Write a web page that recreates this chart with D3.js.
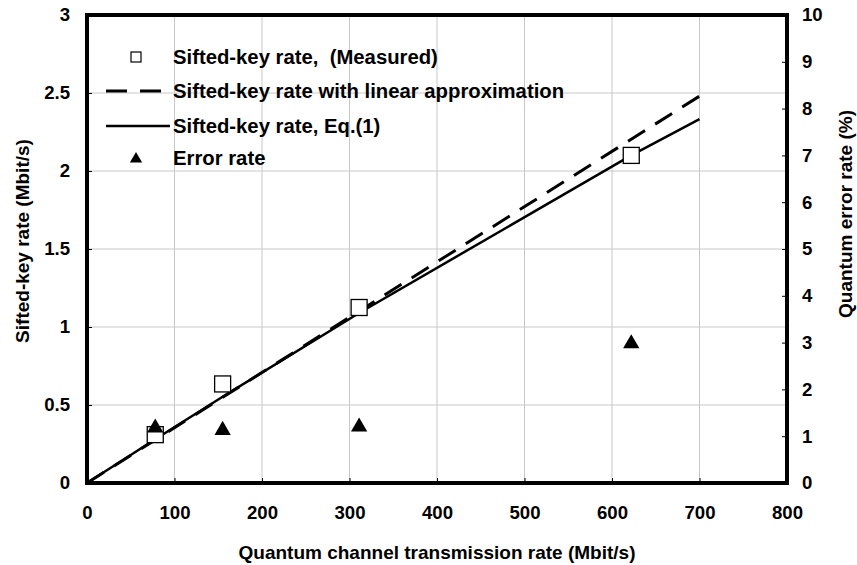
<!DOCTYPE html>
<html><head><meta charset="utf-8">
<script src="https://cdn.jsdelivr.net/npm/d3@7"></script>
<style>body{margin:0;background:#fff}svg{display:block}text{font-family:"Liberation Sans",Arial,sans-serif;font-weight:bold;fill:#000}</style>
</head><body><svg id="c" width="857" height="565"></svg>
<script>
const xTicks = [0,100,200,300,400,500,600,700,800];
const yLeftTicks = [0,0.5,1,1.5,2,2.5,3];
const yRightTicks = [0,1,2,3,4,5,6,7,8,9,10];
const measuredX = [78,155,311,622];
const measuredY = [0.31,0.635,1.125,2.10];
const approxX = [0,700];
const approxY = [0,2.48];
const eq1X = [0,78,155,311,622,700];
const eq1Y = [0,0.28,0.553,1.09,2.1,2.333];
const errX = [78,155,311,622];
const errY = [1.2,1.15,1.22,3.0];
const legendLabels = ["Sifted-key rate,  (Measured)","Sifted-key rate with linear approximation","Sifted-key rate, Eq.(1)","Error rate"];

const svg = d3.select("#c");
const L=87,R=787,T=15,B=483;
const x = d3.scaleLinear().domain([0,800]).range([L,R]);
const yL = d3.scaleLinear().domain([0,3]).range([B,T]);
const yR = d3.scaleLinear().domain([0,10]).range([B,T]);

// grid
const g = svg.append("g");
g.selectAll(".vg").data(xTicks.slice(1,-1)).join("line")
 .attr("x1",d=>x(d)).attr("x2",d=>x(d)).attr("y1",T).attr("y2",B)
 .attr("stroke","#c8c8c8").attr("stroke-width",1);
g.selectAll(".hg").data(yLeftTicks.slice(1,-1)).join("line")
 .attr("x1",L).attr("x2",R).attr("y1",d=>yL(d)).attr("y2",d=>yL(d))
 .attr("stroke","#c8c8c8").attr("stroke-width",1);

// axes
const fs = "18.6px";
const ax = svg.append("g").attr("transform",`translate(0,${B})`)
 .call(d3.axisBottom(x).tickValues(xTicks).tickSize(-5).tickPadding(23));
const ay = svg.append("g").attr("transform",`translate(${L},0)`)
 .call(d3.axisLeft(yL).tickValues(yLeftTicks).tickSize(-5).tickPadding(17).tickFormat(d3.format("")));
const ar = svg.append("g").attr("transform",`translate(${R},0)`)
 .call(d3.axisRight(yR).tickValues(yRightTicks).tickSize(-5).tickPadding(15));
[ax,ay,ar].forEach(a=>{a.select(".domain").remove();a.selectAll("text").style("font-size",fs).attr("font-family",null);a.selectAll("line").attr("stroke","#000");});

// frame
svg.append("rect").attr("x",L).attr("y",T).attr("width",R-L).attr("height",B-T)
 .attr("fill","none").attr("stroke","#000").attr("stroke-width",4);

// lines
const lineF = (xs,ys)=>d3.line().x((d,i)=>x(xs[i])).y((d,i)=>yL(ys[i]))(xs);
svg.append("path").attr("d",lineF(approxX,approxY)).attr("fill","none").attr("stroke","#000")
 .attr("stroke-width",3).attr("stroke-dasharray","20,12");
svg.append("path").attr("d",lineF(eq1X,eq1Y)).attr("fill","none").attr("stroke","#000").attr("stroke-width",2.5);

// measured squares
svg.selectAll(".sq").data(measuredX).join("rect")
 .attr("x",(d,i)=>x(d)-8).attr("y",(d,i)=>yL(measuredY[i])-8).attr("width",16).attr("height",16)
 .attr("fill","#fff").attr("stroke","#000").attr("stroke-width",1.3);
// triangles
const tri = d3.symbol().type(d3.symbolTriangle).size(115);
svg.selectAll(".tr").data(errX).join("path")
 .attr("d",tri).attr("transform",(d,i)=>`translate(${x(d)},${yR(errY[i])+1})`).attr("fill","#000");

// legend
const ly=[57,91,126,158], tx=173;
const lg = svg.append("g").style("font-size","20.3px");
lg.append("rect").attr("x",131).attr("y",ly[0]-5).attr("width",10).attr("height",10).attr("fill","#fff").attr("stroke","#000").attr("stroke-width",1.2);
lg.append("line").attr("x1",106).attr("x2",162).attr("y1",ly[1]).attr("y2",ly[1]).attr("stroke","#000").attr("stroke-width",3).attr("stroke-dasharray","21,13");
lg.append("line").attr("x1",106).attr("x2",170).attr("y1",ly[2]).attr("y2",ly[2]).attr("stroke","#000").attr("stroke-width",2.5);
lg.append("path").attr("d",d3.symbol().type(d3.symbolTriangle).size(65)).attr("transform",`translate(136,${ly[3]+1})`).attr("fill","#000");
lg.selectAll("text").data(legendLabels).join("text").attr("x",tx).attr("y",(d,i)=>ly[i]).attr("dy","0.35em").style("white-space","pre").text(d=>d);

// titles
svg.append("text").attr("x",(L+R)/2).attr("y",559).attr("text-anchor","middle").style("font-size","19px").text("Quantum channel transmission rate (Mbit/s)");
svg.append("text").attr("transform",`translate(29,241) rotate(-90)`).attr("text-anchor","middle").style("font-size","19px").text("Sifted-key rate (Mbit/s)");
svg.append("text").attr("transform",`translate(852,214) rotate(-90)`).attr("text-anchor","middle").style("font-size","19px").text("Quantum error rate (%)");
</script></body></html>
